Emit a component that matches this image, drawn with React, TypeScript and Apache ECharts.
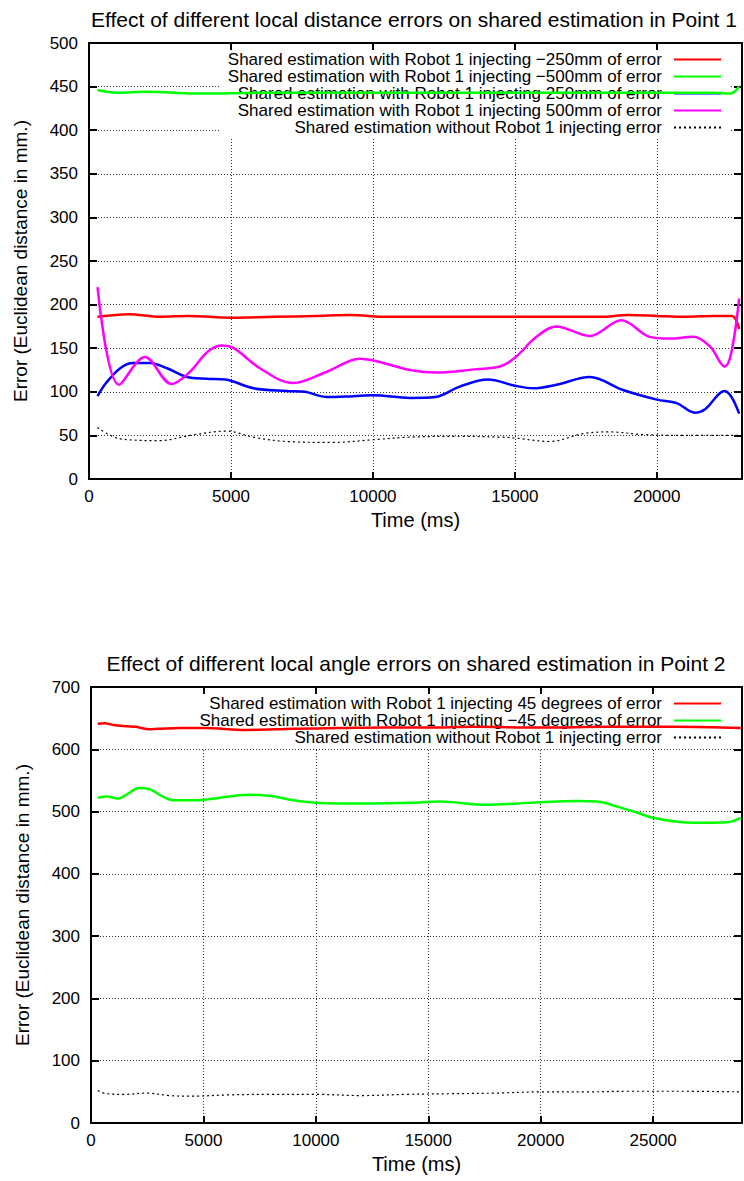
import React, { useEffect, useRef } from "react";
import * as echarts from "echarts";

const FONT = '"Liberation Sans", Arial, Helvetica, sans-serif';

const TITLE_1 = "Effect of different local distance errors on shared estimation in Point 1";
const TITLE_2 = "Effect of different local angle errors on shared estimation in Point 2";
const X_NAME = "Time (ms)";
const Y_NAME = "Error (Euclidean distance in mm.)";

// ---- Chart 1 (Point 1, distance errors) ----
const P1_NAMES = [
  "Shared estimation with Robot 1 injecting \u2212250mm of error",
  "Shared estimation with Robot 1 injecting \u2212500mm of error",
  "Shared estimation with Robot 1 injecting 250mm of error",
  "Shared estimation with Robot 1 injecting 500mm of error",
  "Shared estimation without Robot 1 injecting error",
];

const P1_RED_T = [300, 1400, 2500, 3500, 5000, 6500, 8000, 9200, 10500, 12000, 13500, 15000, 16500, 18000, 19000, 20000, 21000, 22000, 22650, 22900];
const P1_RED_V = [186, 189, 186, 187, 185, 186, 187, 188, 186, 186, 186, 186, 186, 186, 188, 187, 186, 187, 187, 172];

const P1_GREEN_T = [300, 1000, 2000, 4000, 6000, 8000, 10000, 12000, 14000, 16000, 18000, 20000, 22000, 22600, 22900];
const P1_GREEN_V = [446, 443, 444, 442, 443, 443, 443, 443, 443, 443, 443, 443, 443, 442, 450];

const P1_BLUE_T = [300, 600, 1100, 1550, 2150, 2750, 3450, 4150, 4800, 5800, 6970, 7600, 8400, 9300, 10000, 11300, 12200, 13060, 14050, 15000, 15640, 16460, 17640, 18810, 20000, 20700, 21340, 21700, 22390, 22630, 22900];
const P1_BLUE_V = [95, 110, 127, 133, 133, 127, 117, 115, 114, 104, 101, 100, 94, 95, 96, 93, 94, 106, 114, 107, 104, 108, 117, 102, 91, 87, 76, 80, 101, 94, 75];

const P1_MAGENTA_T = [300, 1060, 1970, 2910, 3560, 4150, 4650, 5100, 6020, 7180, 8380, 9540, 11300, 12240, 13650, 14470, 15000, 15760, 16460, 17640, 18750, 19750, 20460, 21280, 21870, 22390, 22630, 22900];
const P1_MAGENTA_V = [220, 108, 140, 109, 123, 145, 153, 150, 127, 110, 123, 138, 125, 122, 126, 129, 139, 163, 175, 164, 182, 163, 161, 163, 152, 129, 146, 207];

const P1_BLACK_T = [300, 1100, 2500, 3560, 4860, 5780, 6970, 8600, 10000, 11300, 13000, 14500, 15000, 16230, 17400, 18340, 19510, 21000, 22900];
const P1_BLACK_V = [59, 46, 44, 50, 55, 48, 43, 42, 45, 48, 49, 48, 47, 43, 52, 54, 51, 50, 50];

// ---- Chart 2 (Point 2, angle errors) ----
const P2_NAMES = [
  "Shared estimation with Robot 1 injecting 45 degrees of error",
  "Shared estimation with Robot 1 injecting \u221245 degrees of error",
  "Shared estimation without Robot 1 injecting error",
];

const P2_RED_T = [300, 600, 1000, 1600, 2000, 2600, 3000, 4000, 5000, 6900, 9000, 11000, 13000, 15000, 17000, 20000, 23000, 26000, 28900];
const P2_RED_V = [641, 642, 639, 637, 636, 632, 633, 634, 634, 631, 633, 634, 635, 635, 636, 635, 636, 636, 634];

const P2_GREEN_T = [300, 700, 1200, 1700, 2100, 2600, 3200, 3700, 4500, 5500, 7000, 8000, 9000, 10000, 11000, 12500, 14200, 15500, 17600, 19000, 20000, 21600, 22500, 23400, 24300, 25000, 26000, 26800, 28300, 28900];
const P2_GREEN_V = [522, 524, 521, 530, 538, 536, 524, 518, 518, 521, 527, 525, 518, 514, 513, 513, 514, 516, 511, 513, 515, 517, 516, 508, 498, 490, 484, 482, 483, 490];

const P2_BLACK_T = [300, 700, 1500, 2500, 3500, 4500, 6000, 8000, 10000, 12000, 14000, 16000, 18000, 20000, 22000, 24000, 26000, 28900];
const P2_BLACK_V = [52, 47, 46, 48, 44, 43, 45, 46, 46, 44, 46, 47, 48, 50, 50, 51, 51, 50];

const P1_Y_MAX = 500;
const P1_Y_STEP = 50;
const P1_X_MAX = 23000;
const P2_Y_MAX = 700;
const P2_Y_STEP = 100;
const P2_X_MAX = 28950;
const X_STEP = 5000;

const zip = (t: number[], v: number[]) => t.map((x, i) => [x, v[i]]);
const plain = (v: number) => String(v);

function xAxisDef(gridIndex: number, max: number, mirror: boolean) {
  return {
    type: "value",
    gridIndex,
    min: 0,
    max,
    interval: X_STEP,
    position: mirror ? "top" : "bottom",
    name: mirror ? "" : X_NAME,
    nameLocation: "middle",
    nameGap: 31,
    nameTextStyle: { fontFamily: FONT, fontSize: 20, color: "#000" },
    axisLine: { show: true, onZero: false, lineStyle: { color: "#000", width: 2 } },
    axisTick: { show: true, inside: true, length: 7, lineStyle: { color: "#000", width: 2 } },
    axisLabel: {
      show: !mirror,
      showMaxLabel: false,
      margin: 9,
      fontFamily: FONT,
      fontSize: 17,
      color: "#000",
      formatter: plain,
    },
    splitLine: mirror
      ? { show: false }
      : { show: true, lineStyle: { color: "#333", width: 1, type: [1, 2] } },
  };
}

function yAxisDef(gridIndex: number, max: number, step: number, mirror: boolean) {
  return {
    type: "value",
    gridIndex,
    min: 0,
    max,
    interval: step,
    position: mirror ? "right" : "left",
    name: mirror ? "" : Y_NAME,
    nameLocation: "middle",
    nameRotate: 90,
    nameGap: 59,
    nameTextStyle: { fontFamily: FONT, fontSize: 19, color: "#000" },
    axisLine: { show: true, onZero: false, lineStyle: { color: "#000", width: 2 } },
    axisTick: { show: true, inside: true, length: 8, lineStyle: { color: "#000", width: 2 } },
    axisLabel: {
      show: !mirror,
      margin: 11,
      fontFamily: FONT,
      fontSize: 17,
      color: "#000",
      formatter: plain,
    },
    splitLine: mirror
      ? { show: false }
      : { show: true, lineStyle: { color: "#333", width: 1, type: [1, 2] } },
  };
}

function lineSeries(name: string, data: number[][], color: string, xi: number, yi: number, dotted = false) {
  return {
    type: "line",
    name,
    data,
    xAxisIndex: xi,
    yAxisIndex: yi,
    showSymbol: false,
    symbol: "none",
    smooth: 0.35,
    z: 3,
    lineStyle: dotted
      ? { color, width: 1.2, type: [2, 3] }
      : { color, width: 2.5 },
    itemStyle: { color },
  };
}

function legendDef(names: string[], top: number) {
  return {
    orient: "vertical",
    right: 14,
    top,
    align: "right",
    itemWidth: 47,
    itemHeight: 17,
    itemGap: 0,
    padding: [1, 8, 2, 8],
    backgroundColor: "#fff",
    z: 1,
    selectedMode: false,
    itemStyle: { opacity: 0, borderWidth: 0 },
    textStyle: {
      fontFamily: FONT,
      fontSize: 17,
      color: "#000",
      lineHeight: 17,
      padding: [0, 7, 0, 0],
    },
    data: names,
  };
}

export default function App() {
  const ref = useRef<HTMLDivElement>(null);
  useEffect(() => {
    if (!ref.current) return;
    const chart = echarts.init(ref.current, undefined, { renderer: "svg" });
    const option = {
      animation: false,
      backgroundColor: "#fff",
      grid: [
        { left: 89, right: 2, top: 43, height: 436 },
        { left: 91, right: 2, top: 687, height: 436 },
      ],
      graphic: [
        {
          type: "text",
          x: 414,
          y: 19,
          style: { text: TITLE_1, font: `21px ${FONT}`, fill: "#000", textAlign: "center", textVerticalAlign: "middle" },
        },
        {
          type: "text",
          x: 416,
          y: 663,
          style: { text: TITLE_2, font: `21px ${FONT}`, fill: "#000", textAlign: "center", textVerticalAlign: "middle" },
        },
      ],
      xAxis: [
        xAxisDef(0, P1_X_MAX, false),
        xAxisDef(0, P1_X_MAX, true),
        xAxisDef(1, P2_X_MAX, false),
        xAxisDef(1, P2_X_MAX, true),
      ],
      yAxis: [
        yAxisDef(0, P1_Y_MAX, P1_Y_STEP, false),
        yAxisDef(0, P1_Y_MAX, P1_Y_STEP, true),
        yAxisDef(1, P2_Y_MAX, P2_Y_STEP, false),
        yAxisDef(1, P2_Y_MAX, P2_Y_STEP, true),
      ],
      legend: [legendDef(P1_NAMES, 50), legendDef(P2_NAMES, 694)],
      series: [
        lineSeries(P1_NAMES[0], zip(P1_RED_T, P1_RED_V), "#ff0000", 0, 0),
        lineSeries(P1_NAMES[1], zip(P1_GREEN_T, P1_GREEN_V), "#00ff00", 0, 0),
        lineSeries(P1_NAMES[2], zip(P1_BLUE_T, P1_BLUE_V), "#0000ff", 0, 0),
        lineSeries(P1_NAMES[3], zip(P1_MAGENTA_T, P1_MAGENTA_V), "#ff00ff", 0, 0),
        lineSeries(P1_NAMES[4], zip(P1_BLACK_T, P1_BLACK_V), "#000000", 0, 0, true),
        lineSeries(P2_NAMES[0], zip(P2_RED_T, P2_RED_V), "#ff0000", 2, 2),
        lineSeries(P2_NAMES[1], zip(P2_GREEN_T, P2_GREEN_V), "#00ff00", 2, 2),
        lineSeries(P2_NAMES[2], zip(P2_BLACK_T, P2_BLACK_V), "#000000", 2, 2, true),
      ],
    };
    chart.setOption(option as any);
    return () => chart.dispose();
  }, []);
  return (
    <div
      ref={ref}
      style={{ position: "absolute", left: 0, top: 0, width: 744, height: 1181, background: "#fff" }}
    />
  );
}
